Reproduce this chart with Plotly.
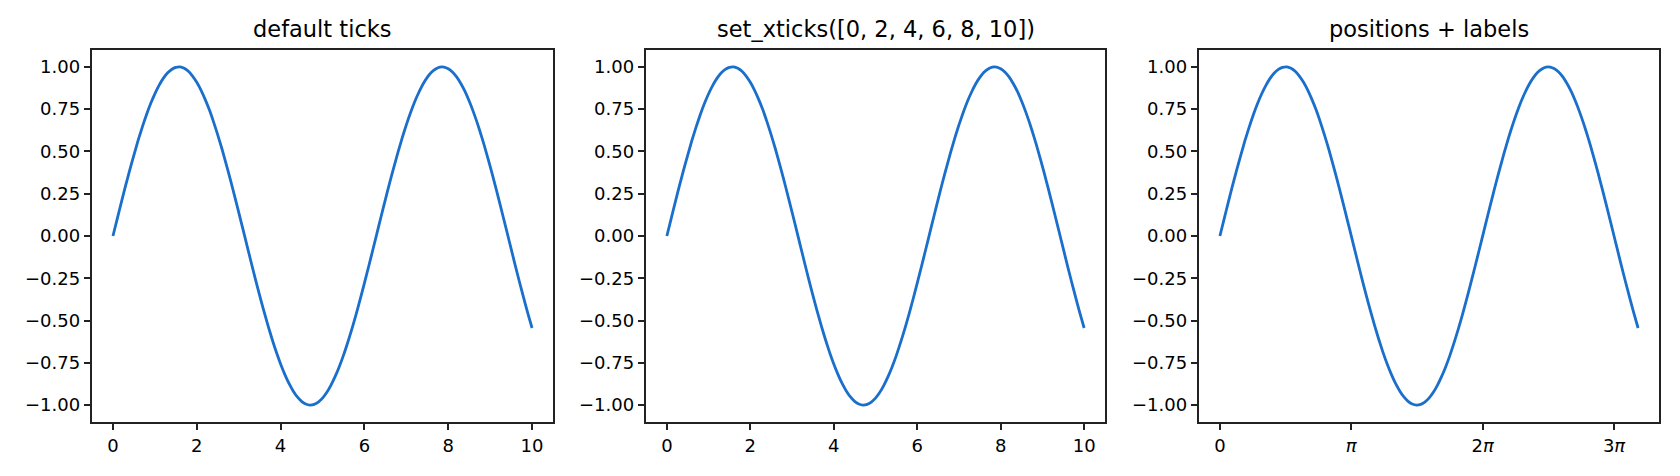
import plotly.graph_objects as go
from plotly.subplots import make_subplots

# curve samples, x step 0.1
x_vals = [0.0, 0.1, 0.2, 0.3, 0.4, 0.5, 0.6, 0.7, 0.8, 0.9,
          1.0, 1.1, 1.2, 1.3, 1.4, 1.5, 1.6, 1.7, 1.8, 1.9,
          2.0, 2.1, 2.2, 2.3, 2.4, 2.5, 2.6, 2.7, 2.8, 2.9,
          3.0, 3.1, 3.2, 3.3, 3.4, 3.5, 3.6, 3.7, 3.8, 3.9,
          4.0, 4.1, 4.2, 4.3, 4.4, 4.5, 4.6, 4.7, 4.8, 4.9,
          5.0, 5.1, 5.2, 5.3, 5.4, 5.5, 5.6, 5.7, 5.8, 5.9,
          6.0, 6.1, 6.2, 6.3, 6.4, 6.5, 6.6, 6.7, 6.8, 6.9,
          7.0, 7.1, 7.2, 7.3, 7.4, 7.5, 7.6, 7.7, 7.8, 7.9,
          8.0, 8.1, 8.2, 8.3, 8.4, 8.5, 8.6, 8.7, 8.8, 8.9,
          9.0, 9.1, 9.2, 9.3, 9.4, 9.5, 9.6, 9.7, 9.8, 9.9,
          10.0]
y_vals = [0.0, 0.100, 0.199, 0.296, 0.389, 0.479, 0.565, 0.644, 0.717, 0.783,
          0.841, 0.891, 0.932, 0.964, 0.985, 0.997, 1.000, 0.992, 0.974, 0.946,
          0.909, 0.863, 0.808, 0.746, 0.675, 0.598, 0.516, 0.427, 0.335, 0.239,
          0.141, 0.042, -0.058, -0.158, -0.256, -0.351, -0.443, -0.530, -0.612, -0.688,
          -0.757, -0.818, -0.872, -0.916, -0.952, -0.978, -0.994, -1.000, -0.996, -0.982,
          -0.959, -0.926, -0.883, -0.832, -0.773, -0.706, -0.631, -0.551, -0.465, -0.374,
          -0.279, -0.182, -0.083, 0.017, 0.117, 0.215, 0.312, 0.405, 0.494, 0.579,
          0.657, 0.729, 0.794, 0.850, 0.899, 0.938, 0.968, 0.988, 0.999, 0.999,
          0.989, 0.970, 0.941, 0.902, 0.855, 0.798, 0.734, 0.663, 0.585, 0.501,
          0.412, 0.319, 0.223, 0.124, 0.025, -0.075, -0.175, -0.272, -0.366, -0.458,
          -0.544]

titles = ["default ticks", "set_xticks([0, 2, 4, 6, 8, 10])", "positions + labels"]
y_ticks = [-1.0, -0.75, -0.5, -0.25, 0.0, 0.25, 0.5, 0.75, 1.0]
x_ticks_set = [0, 2, 4, 6, 8, 10]
x_ticks_pi = [0, 3.141592653589793, 6.283185307179586, 9.42477796076938]
x_labels_pi = ["0", "<i>π</i>", "2<i>π</i>", "3<i>π</i>"]

W, H = 1680, 476
ml, mr, mt, mb = 92, 21, 50, 54
pw = W - ml - mr
panels = [(92, 553), (646, 1105), (1199, 1659)]

fig = make_subplots(rows=1, cols=3)

line_color = "#1a6fcc"
font = dict(family="DejaVu Sans", size=18, color="black")

for i in range(3):
    fig.add_trace(
        go.Scatter(x=x_vals, y=y_vals, mode="lines",
                   line=dict(color=line_color, width=2.8, shape="spline", smoothing=0.6),
                   showlegend=False, hoverinfo="skip"),
        row=1, col=i + 1,
    )

axis_common = dict(
    showgrid=False, zeroline=False, showline=True, mirror=True,
    linecolor="#222222", linewidth=1.5, ticks="outside", ticklen=6.5,
    tickwidth=1.5, tickcolor="#222222", tickfont=font,
)

for i, (a, b) in enumerate(panels):
    dom = [(a - ml) / pw, (b - ml) / pw]
    xa = dict(axis_common, domain=dom, range=[-0.5, 10.5])
    if i < 2:
        xa.update(tickmode="array", tickvals=x_ticks_set)
    else:
        xa.update(tickmode="array", tickvals=x_ticks_pi, ticktext=x_labels_pi)
    fig.update_xaxes(xa, row=1, col=i + 1)
    fig.update_yaxes(dict(axis_common, range=[-1.1, 1.1], tickmode="array",
                          tickvals=y_ticks, tickformat=".2f"),
                     row=1, col=i + 1)
    fig.add_annotation(
        x=(dom[0] + dom[1]) / 2, y=1, xref="paper", yref="paper",
        xanchor="center", yanchor="bottom", yshift=6, showarrow=False,
        text=titles[i], font=dict(family="DejaVu Sans", size=22.5, color="black"),
    )

fig.update_layout(
    width=W, height=H,
    margin=dict(l=ml, r=mr, t=mt, b=mb, autoexpand=False),
    plot_bgcolor="white", paper_bgcolor="white",
    font=font,
)

fig.write_html("out.html", config={"displayModeBar": False},
               post_script="document.body.style.margin='0';")
